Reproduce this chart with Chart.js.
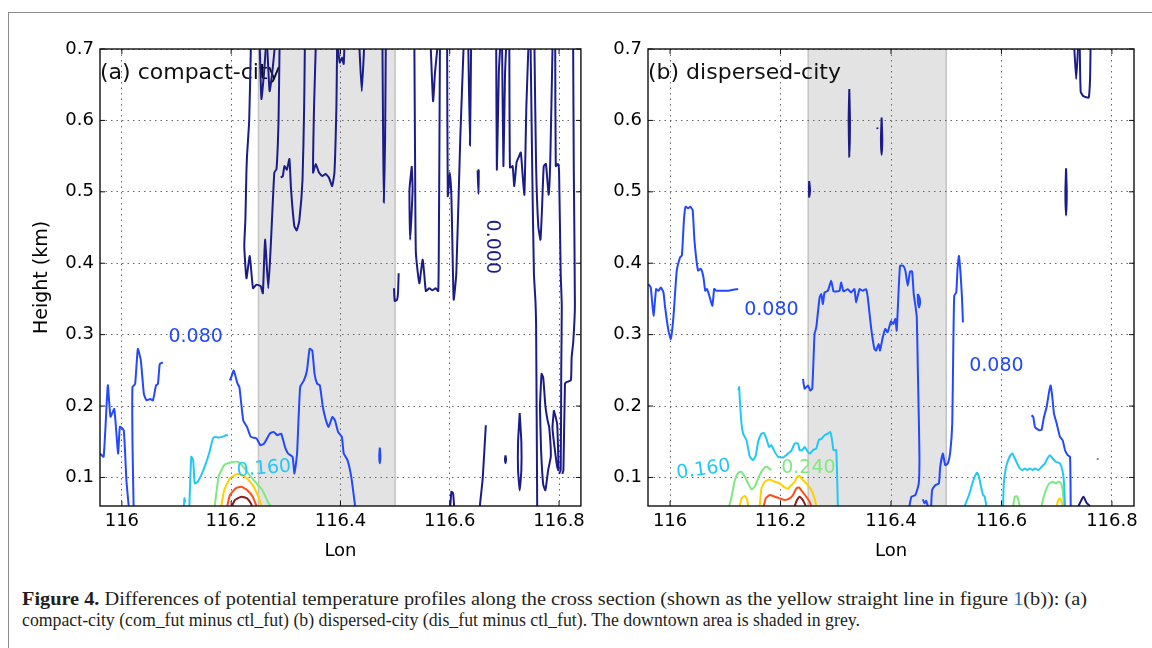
<!DOCTYPE html>
<html>
<head>
<meta charset="utf-8">
<script src="https://cdn.jsdelivr.net/npm/chart.js@4.4.1/dist/chart.umd.min.js"></script>
<style>
  body { margin: 0; background: #fff; width: 1152px; height: 648px; overflow: hidden; position: relative; }
  #frame { position: absolute; left: 8px; top: 12px; width: 1200px; height: 700px; border-top: 1.5px solid #8c8c8c; border-left: 1.5px solid #8c8c8c; }
  #ca { position: absolute; left: 0; top: 0; }
  #cb { position: absolute; left: 590px; top: 0; }
  .cap { position: absolute; left: 22px; font-family: 'Liberation Serif', serif; font-size: 18px; line-height: 18px; color: #231f20; white-space: nowrap; transform-origin: 0 0; }
  .lnk { color: #2b6cb5; }
</style>
</head>
<body>
<div id="frame"></div>
<canvas id="ca" width="590" height="565"></canvas>
<canvas id="cb" width="562" height="565"></canvas>
<div class="cap" id="cap1" style="top:590px"><b>Figure 4.</b> Differences of potential temperature profiles along the cross section (shown as the yellow straight line in figure <span class="lnk">1</span>(b)): (a)</div>
<div class="cap" id="cap2" style="top:611px">compact-city (com_fut minus ctl_fut) (b) dispersed-city (dis_fut minus ctl_fut). The downtown area is shaded in grey.</div>
<script>
// axes
const xTicks = [116, 116.2, 116.4, 116.6, 116.8];
const xTickLabels = ['116', '116.2', '116.4', '116.6', '116.8'];
const yTicks = [0.1, 0.2, 0.3, 0.4, 0.5, 0.6, 0.7];
const yTickLabels = ['0.1', '0.2', '0.3', '0.4', '0.5', '0.6', '0.7'];
const lonRange = [115.96, 116.84];
const heightRange = [0.06, 0.7];
const downtown = [116.25, 116.5];

// contour lines (lon, height km) - panel (a) compact-city
const a0_1 = [[116.236,0.70],[116.233,0.60],[116.229,0.55],[116.228,0.53],[116.226,0.46],[116.224,0.424],[116.228,0.379],[116.234,0.41],[116.240,0.365],[116.246,0.37],[116.254,0.368],[116.258,0.358],[116.262,0.433],[116.268,0.365],[116.273,0.433],[116.279,0.527],[116.283,0.532],[116.2867,0.60],[116.2885,0.70]];
const a0_2 = [[116.2905,0.52],[116.2945,0.522],[116.2975,0.536],[116.302,0.531],[116.3066,0.546],[116.3096,0.503],[116.3156,0.452],[116.32,0.446],[116.3246,0.459],[116.3306,0.517],[116.3336,0.62],[116.3348,0.70]];
const a0_3 = [[116.2524,0.70],[116.2554,0.63],[116.2602,0.667],[116.2632,0.70]];
const a0_4 = [[116.2662,0.70],[116.2704,0.641],[116.2752,0.667],[116.2795,0.70]];
const a0_5 = [[116.3547,0.70],[116.3517,0.62],[116.3499,0.527],[116.3547,0.539],[116.3607,0.527],[116.3668,0.522],[116.3728,0.525],[116.3788,0.520],[116.3848,0.508],[116.389,0.527],[116.3926,0.62],[116.3938,0.70]];
const a0_6 = [[116.3957,0.70],[116.3987,0.681],[116.4029,0.688],[116.4059,0.679],[116.4071,0.70]];
const a0_7 = [[116.4348,0.70],[116.439,0.641],[116.4432,0.70]];
const a0_8 = [[116.4769,0.70],[116.4781,0.574],[116.4793,0.485],[116.4817,0.574],[116.4829,0.70]];
const a0_9 = [[116.498,0.365],[116.4993,0.347],[116.5035,0.349],[116.5053,0.358],[116.5065,0.386]];
const a0_10 = [[116.5305,0.536],[116.5263,0.503],[116.5275,0.433],[116.532,0.503],[116.5305,0.536]];
const a0_11 = [[116.5353,0.70],[116.5365,0.55],[116.538,0.4145],[116.5443,0.372],[116.5503,0.405],[116.5533,0.385],[116.5563,0.361],[116.5623,0.365],[116.5683,0.362],[116.5742,0.365],[116.579,0.361],[116.5802,0.45],[116.581,0.55],[116.582,0.70]];
const a0_12 = [[116.5653,0.70],[116.5695,0.627],[116.573,0.667],[116.5772,0.70]];
const a0_13 = [[116.5952,0.70],[116.5964,0.494],[116.6,0.527],[116.603,0.494],[116.605,0.42],[116.6072,0.349],[116.612,0.386],[116.6192,0.574],[116.6252,0.70]];
const a0_14 = [[116.634,0.70],[116.637,0.565],[116.639,0.70]];
const a0_15 = [[116.651,0.53],[116.6525,0.497],[116.653,0.53],[116.651,0.53]];
const a0_16 = [[116.685,0.70],[116.6862,0.531],[116.6898,0.667],[116.692,0.70]];
const a0_17 = [[116.6958,0.70],[116.6982,0.536],[116.7012,0.667],[116.703,0.70]];
const a0_18 = [[116.709,0.70],[116.7102,0.534],[116.715,0.536],[116.718,0.508],[116.7222,0.541],[116.7258,0.548],[116.73,0.555],[116.733,0.527],[116.7366,0.496],[116.7402,0.62],[116.7438,0.70]];
const a0_19 = [[116.748,0.70],[116.751,0.527],[116.754,0.386],[116.757,0.344],[116.758,0.315],[116.76,0.06]];
const a0_20 = [[116.755,0.70],[116.758,0.536],[116.762,0.452],[116.766,0.433],[116.769,0.48],[116.772,0.536],[116.776,0.539],[116.781,0.496],[116.784,0.546],[116.788,0.70]];
const a0_21 = [[116.793,0.70],[116.794,0.536],[116.798,0.539],[116.8,0.529],[116.803,0.386],[116.805,0.34],[116.804,0.25],[116.803,0.11],[116.800,0.105]];
const a0_22 = [[116.8258,0.70],[116.827,0.527],[116.829,0.34],[116.826,0.29],[116.823,0.268],[116.8216,0.236],[116.8138,0.2335],[116.8108,0.231],[116.808,0.11],[116.806,0.105]];
const a0_23 = [[116.765,0.20],[116.768,0.245],[116.771,0.24],[116.775,0.20],[116.779,0.18],[116.782,0.17],[116.785,0.13],[116.78,0.11],[116.775,0.082],[116.771,0.09],[116.767,0.14],[116.765,0.20]];
const a0_24 = [[116.7905,0.194],[116.7965,0.175],[116.799,0.11],[116.7965,0.115],[116.7905,0.15],[116.788,0.17],[116.7905,0.194]];
const a0_25 = [[116.728,0.19],[116.731,0.15],[116.731,0.11],[116.728,0.082],[116.725,0.11],[116.725,0.15],[116.728,0.19]];
const a0_26 = [[116.702,0.131],[116.703,0.125],[116.702,0.12],[116.701,0.125],[116.702,0.131]];
const a0_27 = [[116.655,0.06],[116.66,0.096],[116.6623,0.124],[116.666,0.173]];
const a0_28 = [[116.601,0.06],[116.603,0.08],[116.606,0.078],[116.608,0.06]];
const a08_1 = [[115.9597,0.1335],[115.9667,0.129],[115.9743,0.229],[115.9792,0.185],[115.9861,0.196],[115.9931,0.1335],[115.9965,0.171],[116.0035,0.166],[116.0083,0.096],[116.0125,0.06]];
const a08_2 = [[116.0215,0.06],[116.0194,0.15],[116.0194,0.2265],[116.0243,0.231],[116.0292,0.28],[116.0347,0.264],[116.0403,0.217],[116.0451,0.208],[116.052,0.21],[116.0569,0.208],[116.0625,0.229],[116.066,0.231],[116.0694,0.259],[116.075,0.261]];
const a08_3 = [[116.1978,0.2358],[116.2013,0.2428],[116.2047,0.2498],[116.2117,0.2312],[116.2151,0.2265],[116.2221,0.18],[116.229,0.1707],[116.236,0.1568],[116.2464,0.1545],[116.2533,0.1452],[116.2603,0.1475],[116.2707,0.1614],[116.2776,0.1638],[116.2845,0.1591],[116.2915,0.1614],[116.2984,0.1428],[116.304,0.1335],[116.3123,0.1289],[116.3158,0.1056],[116.3206,0.1335],[116.3262,0.2265],[116.3331,0.2358],[116.3387,0.2498],[116.3435,0.28],[116.3484,0.2777],[116.3526,0.2451],[116.3574,0.2312],[116.3623,0.2289],[116.3678,0.1986],[116.3734,0.18],[116.3782,0.1707],[116.3852,0.1847],[116.39,0.18],[116.3956,0.1638],[116.4025,0.1568],[116.406,0.1335],[116.4129,0.1242],[116.4199,0.1],[116.4268,0.06]];
const a08_4 = [[116.472,0.142],[116.473,0.13],[116.472,0.12],[116.471,0.13],[116.472,0.142]];
const a16_1 = [[116.1135,0.06],[116.1145,0.071],[116.116,0.065]];
const a16_2 = [[116.1235,0.06],[116.127,0.1289],[116.1305,0.1242],[116.1333,0.0917],[116.1388,0.094],[116.1492,0.1103],[116.1596,0.1335],[116.1666,0.1545],[116.17,0.1568],[116.177,0.1558],[116.1839,0.1568],[116.1909,0.159],[116.1943,0.159]];
const a24_1 = [[116.17,0.06],[116.177,0.101],[116.1874,0.1173],[116.1978,0.1205],[116.2117,0.122],[116.2221,0.115],[116.236,0.101],[116.2568,0.0824],[116.2672,0.066],[116.272,0.06]];
const a32_1 = [[116.1818,0.06],[116.1874,0.0824],[116.1978,0.0987],[116.2117,0.1047],[116.2256,0.101],[116.2394,0.0893],[116.2498,0.073],[116.2554,0.06]];
const a40_1 = [[116.1929,0.06],[116.1978,0.0754],[116.2082,0.0847],[116.2186,0.087],[116.229,0.0824],[116.2394,0.073],[116.2464,0.06]];
const a48_1 = [[116.2013,0.06],[116.207,0.0684],[116.2186,0.073],[116.229,0.0707],[116.236,0.0638],[116.238,0.06]];

// panel (b) dispersed-city
const b0_1 = [[116.3245,0.644],[116.3257,0.6],[116.3245,0.549],[116.3233,0.6],[116.3245,0.644]];
const b0_2 = [[116.383,0.604],[116.3842,0.575],[116.383,0.552],[116.3818,0.575],[116.383,0.604]];
const b0_3 = [[116.375,0.59],[116.3758,0.588]];
const b0_4 = [[116.2518,0.515],[116.2535,0.502],[116.2518,0.493],[116.2515,0.505],[116.2518,0.515]];
const b0_5 = [[116.717,0.533],[116.7182,0.5],[116.717,0.467],[116.7158,0.5],[116.717,0.533]];
const b0_6 = [[116.732,0.70],[116.7353,0.658],[116.7386,0.70]];
const b0_7 = [[116.7418,0.70],[116.7435,0.64],[116.7483,0.634],[116.758,0.632],[116.7605,0.66],[116.7613,0.70]];
const b0_8 = [[116.7394,0.06],[116.7485,0.073],[116.7545,0.064],[116.7606,0.06]];
const b0_9 = [[116.774,0.1265],[116.7745,0.125]];
const b08_1 = [[115.961,0.3707],[115.965,0.366],[115.97,0.3265],[115.9747,0.3637],[115.979,0.3614],[115.9832,0.366],[115.988,0.359],[115.991,0.338],[115.997,0.3056],[116.0012,0.294],[116.006,0.3242],[116.012,0.389],[116.018,0.408],[116.0214,0.411],[116.025,0.46],[116.0279,0.4791],[116.0325,0.4767],[116.0364,0.4791],[116.0409,0.4744],[116.0441,0.4321],[116.0506,0.3898],[116.0558,0.3922],[116.0604,0.3804],[116.0636,0.3616],[116.0669,0.364],[116.0701,0.3569],[116.0766,0.3405],[116.0798,0.364],[116.0831,0.3616],[116.0896,0.3616],[116.1058,0.3616],[116.1233,0.364]];
const b08_2 = [[116.2406,0.2381],[116.2436,0.2242],[116.2496,0.2288],[116.2538,0.2219],[116.2574,0.2242],[116.2616,0.3009],[116.2647,0.3102],[116.2707,0.3521],[116.2737,0.3567],[116.2767,0.3428],[116.2797,0.3591],[116.2857,0.3614],[116.2917,0.3753],[116.2959,0.3605],[116.3008,0.3605],[116.3068,0.3614],[116.3098,0.373],[116.314,0.3605],[116.3218,0.3637],[116.3278,0.359],[116.3338,0.3637],[116.3368,0.3451],[116.3429,0.3637],[116.3489,0.3614],[116.3549,0.3637],[116.3579,0.352],[116.3639,0.3102],[116.3699,0.28],[116.3729,0.2777],[116.3777,0.287],[116.3801,0.2777],[116.3848,0.2953],[116.3897,0.3079],[116.3939,0.3033],[116.4,0.3186],[116.4042,0.3149],[116.4079,0.3219],[116.4103,0.3056],[116.4127,0.3428],[116.4164,0.3963],[116.4224,0.3963],[116.4261,0.3893],[116.4303,0.3684],[116.4345,0.3884],[116.4382,0.3884],[116.4412,0.3567],[116.4442,0.3405],[116.4467,0.3242],[116.4485,0.2544],[116.4503,0.1847],[116.4515,0.1289],[116.4503,0.0916],[116.4442,0.0754],[116.437,0.073],[116.4333,0.06]];
const b08_3 = [[116.4485,0.357],[116.4515,0.352],[116.4527,0.345],[116.4509,0.338],[116.4488,0.345],[116.4485,0.357]];
const b08_4 = [[116.4576,0.0693],[116.4606,0.0637],[116.4636,0.0674],[116.4667,0.06]];
const b08_5 = [[116.4727,0.06],[116.4745,0.0823],[116.4806,0.0893],[116.4867,0.0916],[116.4891,0.1149],[116.4939,0.1335],[116.4982,0.1172],[116.503,0.1196],[116.5073,0.1358],[116.5109,0.1754],[116.5127,0.2777],[116.5145,0.3544],[116.5182,0.3591],[116.5206,0.394],[116.523,0.4102],[116.526,0.3847],[116.5285,0.3521],[116.5303,0.3172]];
const b08_6 = [[116.6545,0.187],[116.6576,0.1847],[116.6606,0.1707],[116.6636,0.1684],[116.6685,0.166],[116.6727,0.167],[116.677,0.1847],[116.6818,0.1986],[116.6867,0.2219],[116.6891,0.2288],[116.6921,0.2126],[116.6951,0.1893],[116.7,0.1754],[116.706,0.1567],[116.7109,0.1521],[116.7151,0.1381],[116.72,0.1312],[116.7242,0.1289],[116.7254,0.06]];
const b16_1 = [[116.1233,0.2219],[116.1251,0.2265],[116.1263,0.2079],[116.1293,0.1754],[116.1323,0.1614],[116.1383,0.1521],[116.1444,0.1289],[116.1504,0.1242],[116.1552,0.1312],[116.1594,0.1498],[116.1654,0.1614],[116.1696,0.1623],[116.1744,0.1544],[116.1792,0.1428],[116.1835,0.1451],[116.1895,0.1358],[116.1955,0.1289],[116.2045,0.1279],[116.2135,0.1335],[116.2195,0.1372],[116.2256,0.1475],[116.2316,0.1475],[116.2346,0.1382],[116.2394,0.1382],[116.2436,0.1428],[116.2496,0.1358],[116.2538,0.1335],[116.2586,0.1382],[116.2647,0.1405],[116.2695,0.153],[116.2737,0.1537],[116.2797,0.1591],[116.2857,0.1614],[116.2899,0.1637],[116.2929,0.1544],[116.2959,0.1382],[116.3008,0.1382],[116.3038,0.06]];
const b16_2 = [[116.5333,0.06],[116.5412,0.0754],[116.5473,0.0916],[116.5515,0.1009],[116.5557,0.1065],[116.5594,0.1009],[116.5618,0.0916],[116.5667,0.0754],[116.5697,0.073],[116.5727,0.06]];
const b16_3 = [[116.603,0.06],[116.6042,0.0916],[116.6079,0.1126],[116.6121,0.1242],[116.6164,0.1312],[116.62,0.1335],[116.6242,0.1265],[116.6285,0.1196],[116.6333,0.1126],[116.6382,0.1102],[116.6424,0.1126],[116.6467,0.1102],[116.6515,0.1126],[116.6564,0.1102],[116.6606,0.1126],[116.6667,0.1102],[116.6727,0.1149],[116.6788,0.1196],[116.683,0.1265],[116.6879,0.1312],[116.6927,0.1265],[116.6988,0.1219],[116.706,0.1196],[116.7109,0.1079],[116.7133,0.0916],[116.7151,0.06]];
const b24_1 = [[116.1071,0.06],[116.1113,0.073],[116.1173,0.0963],[116.1233,0.1065],[116.1293,0.1079],[116.1353,0.1009],[116.1414,0.0916],[116.1474,0.0833],[116.1534,0.087],[116.1594,0.0986],[116.1654,0.1079],[116.1714,0.114],[116.1756,0.1149],[116.1792,0.1126],[116.1835,0.1102]];
const b24_2 = [[116.6212,0.06],[116.6242,0.073],[116.6285,0.0737],[116.6321,0.0637],[116.6333,0.06]];
const b24_3 = [[116.6727,0.06],[116.6757,0.0707],[116.6818,0.0847],[116.6867,0.0916],[116.6927,0.094],[116.6988,0.0916],[116.703,0.094],[116.7073,0.0926],[116.7109,0.0823],[116.7133,0.06]];
const b32_1 = [[116.1263,0.06],[116.1293,0.0707],[116.1353,0.074],[116.1396,0.0684],[116.1414,0.06]];
const b32_2 = [[116.1624,0.06],[116.1654,0.0847],[116.1714,0.094],[116.1804,0.0972],[116.1895,0.094],[116.1985,0.0916],[116.2075,0.086],[116.2135,0.0847],[116.2195,0.0893],[116.2256,0.094],[116.2298,0.1009],[116.2346,0.1019],[116.2406,0.0963],[116.2466,0.0916],[116.2556,0.0823],[116.2616,0.0707],[116.2647,0.06]];
const b32_3 = [[116.7,0.06],[116.703,0.0684],[116.706,0.0707],[116.709,0.066],[116.7103,0.06]];
const b40_1 = [[116.1696,0.06],[116.1732,0.0707],[116.1804,0.0754],[116.1895,0.073],[116.1985,0.0707],[116.2075,0.0684],[116.2165,0.0707],[116.2226,0.0754],[116.2286,0.0847],[116.2334,0.086],[116.2394,0.08],[116.2466,0.073],[116.2526,0.066],[116.2556,0.06]];
const b48_1 = [[116.2256,0.06],[116.2298,0.0684],[116.2346,0.073],[116.2394,0.0693],[116.2436,0.0637],[116.2454,0.06]];

// contour labels
const aLabelText = ['0.080', '0.160', '0.000'];
const aLabelLon = [116.135, 116.26, 116.677];
const aLabelH = [0.297, 0.112, 0.423];
const bLabelText = ['0.080', '0.080', '0.160', '0.240'];
const bLabelLon = [116.1835, 116.5908, 116.0605, 116.2505];
const bLabelH = [0.3347, 0.2563, 0.1108, 0.1136];

const levelColor = {
    '0.000': '#1c1c88',
    '0.080': '#2348ff',
    '0.160': '#22c8f5',
    '0.240': '#80e880',
    '0.320': '#ffd000',
    '0.400': '#ff4d1a',
    '0.480': '#8b1c1c'
};

const aLines = [
    ['0.000', [a0_1, a0_2, a0_3, a0_4, a0_5, a0_6, a0_7, a0_8, a0_9, a0_10, a0_11, a0_12, a0_13, a0_14, a0_15, a0_16, a0_17, a0_18, a0_19, a0_20, a0_21, a0_22, a0_23, a0_24, a0_25, a0_26, a0_27, a0_28]],
    ['0.080', [a08_1, a08_2, a08_3, a08_4]],
    ['0.160', [a16_1, a16_2]],
    ['0.240', [a24_1]],
    ['0.320', [a32_1]],
    ['0.400', [a40_1]],
    ['0.480', [a48_1]]
];
const bLines = [
    ['0.000', [b0_1, b0_2, b0_3, b0_4, b0_5, b0_6, b0_7, b0_8, b0_9]],
    ['0.080', [b08_1, b08_2, b08_3, b08_4, b08_5, b08_6]],
    ['0.160', [b16_1, b16_2, b16_3]],
    ['0.240', [b24_1, b24_2, b24_3]],
    ['0.320', [b32_1, b32_2, b32_3]],
    ['0.400', [b40_1]],
    ['0.480', [b48_1]]
];

Chart.defaults.font.family = 'DejaVu Sans';
Chart.defaults.color = '#000';

function toDatasets(groups) {
    const out = [];
    groups.forEach(([level, lines]) => {
        lines.forEach(pts => {
            out.push({
                data: pts.map(p => ({x: p[0], y: p[1]})),
                borderColor: levelColor[level],
                borderWidth: 2,
                showLine: true,
                pointRadius: 0,
                tension: 0.15,
                clip: 0
            });
        });
    });
    return out;
}

// grey downtown band, drawn under the grid
const shadePlugin = {
    id: 'shade',
    beforeDraw(chart) {
        const {ctx, chartArea: a, scales: {x}} = chart;
        const x0 = x.getPixelForValue(downtown[0]);
        const x1 = x.getPixelForValue(downtown[1]);
        ctx.save();
        ctx.fillStyle = '#e3e3e3';
        ctx.fillRect(x0, a.top, x1 - x0, a.bottom - a.top);
        ctx.strokeStyle = '#c4c4c4';
        ctx.lineWidth = 1.5;
        ctx.beginPath();
        ctx.moveTo(x0, a.top); ctx.lineTo(x0, a.bottom);
        ctx.moveTo(x1, a.top); ctx.lineTo(x1, a.bottom);
        ctx.stroke();
        ctx.restore();
    }
};

const decoPlugin = {
    id: 'deco',
    beforeDatasetsDraw(chart, args, opts) {
        const {ctx, chartArea: a} = chart;
        ctx.save();
        ctx.font = '22px "DejaVu Sans"';
        ctx.fillStyle = '#111';
        ctx.fillText(opts.title, a.left, a.top + 30);
        ctx.restore();
    },
    afterDatasetsDraw(chart, args, opts) {
        const {ctx, chartArea: a, scales: {x, y}} = chart;
        ctx.save();
        ctx.font = '19px "DejaVu Sans"';
        ctx.textAlign = 'center';
        ctx.textBaseline = 'middle';
        opts.text.forEach((t, i) => {
            ctx.save();
            ctx.translate(x.getPixelForValue(opts.lon[i]), y.getPixelForValue(opts.h[i]));
            ctx.rotate((opts.rot[i] || 0) * Math.PI / 180);
            ctx.fillStyle = levelColor[t];
            ctx.fillText(t, 0, 0);
            ctx.restore();
        });
        ctx.strokeStyle = '#111';
        ctx.lineWidth = 1.4;
        ctx.strokeRect(a.left, a.top, a.right - a.left, a.bottom - a.top);
        ctx.lineWidth = 1;
        ctx.beginPath();
        xTicks.forEach(v => {
            const p = x.getPixelForValue(v);
            ctx.moveTo(p, a.bottom); ctx.lineTo(p, a.bottom - 5);
            ctx.moveTo(p, a.top); ctx.lineTo(p, a.top + 5);
        });
        yTicks.forEach(v => {
            const p = y.getPixelForValue(v);
            ctx.moveTo(a.left, p); ctx.lineTo(a.left + 5, p);
            ctx.moveTo(a.right, p); ctx.lineTo(a.right - 5, p);
        });
        ctx.stroke();
        ctx.restore();
    }
};

function makePanel(id, groups, deco, yTitle, yWidth, padRight) {
    const tickFont = {size: 18};
    return new Chart(document.getElementById(id), {
        type: 'scatter',
        data: {datasets: toDatasets(groups)},
        options: {
            responsive: false,
            animation: false,
            devicePixelRatio: 1,
            layout: {padding: {top: 49, right: padRight, left: 0, bottom: 0}},
            plugins: {legend: {display: false}, tooltip: {enabled: false}, deco: deco},
            scales: {
                x: {
                    type: 'linear',
                    min: lonRange[0],
                    max: lonRange[1],
                    afterBuildTicks: s => { s.ticks = xTicks.map(v => ({value: v})); },
                    afterFit: s => { s.height = 59; },
                    ticks: {callback: (v, i) => xTickLabels[i], padding: 5, font: tickFont, color: '#000', maxRotation: 0, autoSkip: false},
                    grid: {color: '#666', lineWidth: 1, drawTicks: false},
                    border: {display: false, dash: [1.5, 4]},
                    title: {display: true, text: 'Lon', font: {size: 18}, color: '#000', padding: {top: 0, bottom: 3}}
                },
                y: {
                    type: 'linear',
                    min: heightRange[0],
                    max: heightRange[1],
                    afterBuildTicks: s => { s.ticks = yTicks.map(v => ({value: v})); },
                    afterFit: s => { s.width = yWidth; },
                    ticks: {callback: (v, i) => yTickLabels[i], padding: 6, font: tickFont, color: '#000', autoSkip: false},
                    grid: {color: '#666', lineWidth: 1, drawTicks: false},
                    border: {display: false, dash: [1.5, 4]},
                    title: {display: !!yTitle, text: yTitle, font: {size: 19}, color: '#000', padding: {top: 31, bottom: 0}}
                }
            }
        },
        plugins: [shadePlugin, decoPlugin]
    });
}

makePanel('ca', aLines, {title: '(a) compact-city', text: aLabelText, lon: aLabelLon, h: aLabelH, rot: [0, -5, 90]}, 'Height (km)', 100, 4);
makePanel('cb', bLines, {title: '(b) dispersed-city', text: bLabelText, lon: bLabelLon, h: bLabelH, rot: [0, 0, -8, 0]}, '', 58, 18);

// fit each caption line to its printed width
const cap1 = document.getElementById('cap1');
const cap2 = document.getElementById('cap2');
cap1.style.transform = 'scaleX(' + (1065 / cap1.getBoundingClientRect().width) + ')';
cap2.style.transform = 'scaleX(' + (838 / cap2.getBoundingClientRect().width) + ')';
</script>
</body>
</html>
